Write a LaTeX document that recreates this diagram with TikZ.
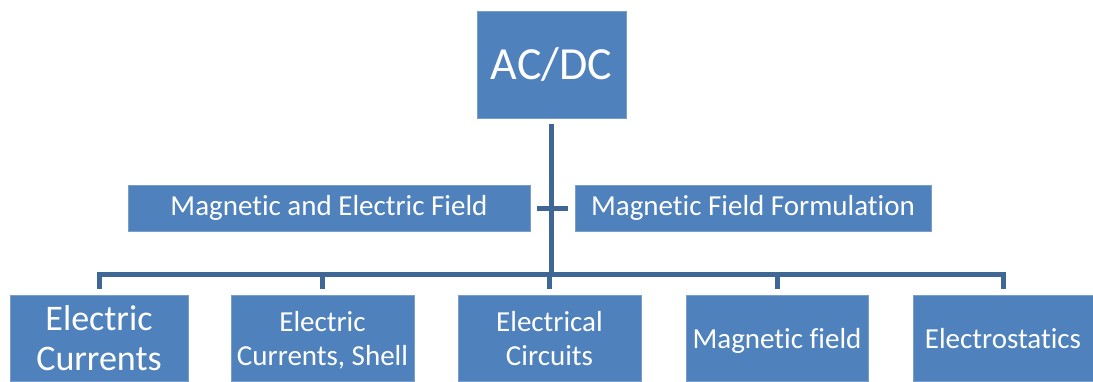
\documentclass[tikz,border=0pt]{standalone}
\usepackage{fontspec}
\setmainfont{Carlito}[Ligatures=NoCommon]
\definecolor{boxblue}{RGB}{79,129,189}
\definecolor{boxedge}{RGB}{122,158,204}
\definecolor{linkblue}{RGB}{63,103,150}
\begin{document}
\begin{tikzpicture}[x=1pt,y=-1pt,
  box/.style={rectangle, fill=boxblue, draw=boxedge, line width=0.8pt, text=white,
    inner sep=0pt, outer sep=0pt, align=center},
  conn/.style={draw=linkblue, line width=5pt, line join=miter},
  midtxt/.style={font=\fontsize{29}{35}\selectfont},
  botbox/.style={box, minimum height=86pt, text depth=0pt},
  bottxt/.style={font=\fontsize{29}{34}\selectfont}]
\useasboundingbox (0,0) rectangle (1093,381);
% top
\node[box, minimum width=149pt, minimum height=107pt, font=\fontsize{46}{50}\selectfont] (top) at (551.5,64.5) {AC/DC};
% middle (assistants)
\node[box, midtxt, minimum width=402pt, minimum height=46pt] (m1) at (329,208) {Magnetic and Electric Field};
\node[box, midtxt, minimum width=356pt, minimum height=46pt] (m2) at (753,208) {Magnetic Field Formulation};
% bottom
\node[botbox, minimum width=178pt, font=\fontsize{36}{40}\selectfont] (b1) at (99,338) {Electric\\Currents};
\node[botbox, bottxt, minimum width=183pt] (b2) at (322.5,338) {Electric\\Currents, Shell};
\node[botbox, bottxt, minimum width=183pt] (b3) at (549.5,338) {Electrical\\Circuits};
\node[botbox, bottxt, minimum width=182pt] (b4) at (777,338) {Magnetic field};
\node[botbox, bottxt, minimum width=180pt] (b5) at (1003,338) {Electrostatics};
% connectors
\coordinate (stem) at ([yshift=-6pt]top.south);
\coordinate (hub) at (551.5,274);
\draw[conn] (stem) -- (hub);
\draw[conn] ([xshift=7pt]m1.east) -- (stem |- m1.east);
\draw[conn] ([xshift=-7pt]m2.west) -- (stem |- m2.west);
\foreach \b in {b1,b2,b3,b4,b5}{
  \draw[conn] (hub) -| ([yshift=6pt]\b.north);
}
\end{tikzpicture}
\end{document}
